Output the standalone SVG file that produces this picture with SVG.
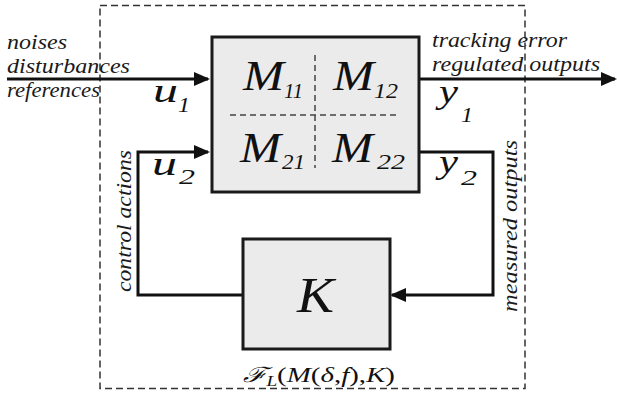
<svg xmlns="http://www.w3.org/2000/svg" width="617" height="401" viewBox="0 0 617 401">
<style>
.frame{fill:none;stroke:#333;stroke-width:1.5;stroke-dasharray:7,4}
.box{fill:#ebebeb;stroke:#1a1a1a;stroke-width:3}
.part{fill:none;stroke:#444;stroke-width:1.5;stroke-dasharray:6,4}
.wire{fill:none;stroke:#111;stroke-width:3;stroke-linejoin:miter}
.lbl{font-family:"Liberation Serif","Times New Roman",serif;font-style:italic;fill:#1a1a1a;font-size:22px}
.math{font-family:"Liberation Serif","Times New Roman",serif;font-style:italic;fill:#111}
.big{font-size:42px}
.sub{font-size:22px}
.var{font-size:34px}
.up{font-style:normal}
</style>
<defs>
<marker id="ah" markerUnits="userSpaceOnUse" markerWidth="16" markerHeight="14" viewBox="0 0 16 14" refX="14" refY="7" orient="auto">
<path d="M0,0 L16,7 L0,14 z" fill="#111"/>
</marker>
</defs>
<rect class="frame" x="100" y="5.5" width="425" height="383"/>
<g id="connectors">
<path class="wire" d="M7,79 H208" marker-end="url(#ah)"/>
<path class="wire" d="M243,295 H138 V152 H208" marker-end="url(#ah)"/>
<path class="wire" d="M419,79 H615" marker-end="url(#ah)"/>
<path class="wire" d="M419,152 H493 V295 H392" marker-end="url(#ah)"/>
</g>
<g id="M">
<rect class="box" x="212" y="37" width="207" height="155"/>
<line class="part" x1="315" y1="55" x2="315" y2="168"/>
<line class="part" x1="230" y1="115" x2="397" y2="115"/>
<text class="math big" x="243" y="90" textLength="41" lengthAdjust="spacingAndGlyphs">M</text>
<text class="math sub" x="284" y="98" textLength="19" lengthAdjust="spacingAndGlyphs">11</text>
<text class="math big" x="333" y="90" textLength="41" lengthAdjust="spacingAndGlyphs">M</text>
<text class="math sub" x="374" y="98" textLength="24" lengthAdjust="spacingAndGlyphs">12</text>
<text class="math big" x="240" y="162" textLength="41" lengthAdjust="spacingAndGlyphs">M</text>
<text class="math sub" x="282" y="169" textLength="23" lengthAdjust="spacingAndGlyphs">21</text>
<text class="math big" x="332" y="162" textLength="41" lengthAdjust="spacingAndGlyphs">M</text>
<text class="math sub" x="377" y="169" textLength="28" lengthAdjust="spacingAndGlyphs">22</text>
</g>
<g id="K">
<rect class="box" x="243" y="239" width="147" height="110"/>
<text class="math" x="297" y="312" font-size="51" textLength="37" lengthAdjust="spacingAndGlyphs">K</text>
</g>
<g id="labels">
<text class="lbl" x="7" y="49" textLength="60" lengthAdjust="spacingAndGlyphs">noises</text>
<text class="lbl" x="7" y="73" textLength="123" lengthAdjust="spacingAndGlyphs">disturbances</text>
<text class="lbl" x="7" y="97" textLength="93" lengthAdjust="spacingAndGlyphs">references</text>
<text class="lbl" x="432" y="47" textLength="135" lengthAdjust="spacingAndGlyphs">tracking error</text>
<text class="lbl" x="432" y="71" textLength="168" lengthAdjust="spacingAndGlyphs">regulated outputs</text>
<text class="lbl" transform="translate(131,221) rotate(-90)" text-anchor="middle" textLength="142" lengthAdjust="spacingAndGlyphs">control actions</text>
<text class="lbl" transform="translate(517,226) rotate(-90)" text-anchor="middle" textLength="172" lengthAdjust="spacingAndGlyphs">measured outputs</text>
<text class="math var" x="153" y="102" textLength="25" lengthAdjust="spacingAndGlyphs">u</text>
<text class="math sub" x="178" y="112" textLength="12" lengthAdjust="spacingAndGlyphs">1</text>
<text class="math var" x="152" y="175" textLength="25" lengthAdjust="spacingAndGlyphs">u</text>
<text class="math sub" x="179" y="184" textLength="16" lengthAdjust="spacingAndGlyphs">2</text>
<text class="math var" x="439" y="103" textLength="19" lengthAdjust="spacingAndGlyphs">y</text>
<text class="math sub" x="461" y="122" textLength="12" lengthAdjust="spacingAndGlyphs">1</text>
<text class="math var" x="439" y="173" textLength="19" lengthAdjust="spacingAndGlyphs">y</text>
<text class="math sub" x="461" y="185" textLength="16" lengthAdjust="spacingAndGlyphs">2</text>
<text class="math" x="243" y="382" font-size="21" textLength="152" lengthAdjust="spacingAndGlyphs">ℱ<tspan font-size="14" dy="4">L</tspan><tspan class="up" dy="-4">(</tspan>M<tspan class="up">(</tspan>δ<tspan class="up">,</tspan>f<tspan class="up">),</tspan>K<tspan class="up">)</tspan></text>
</g>
</svg>
